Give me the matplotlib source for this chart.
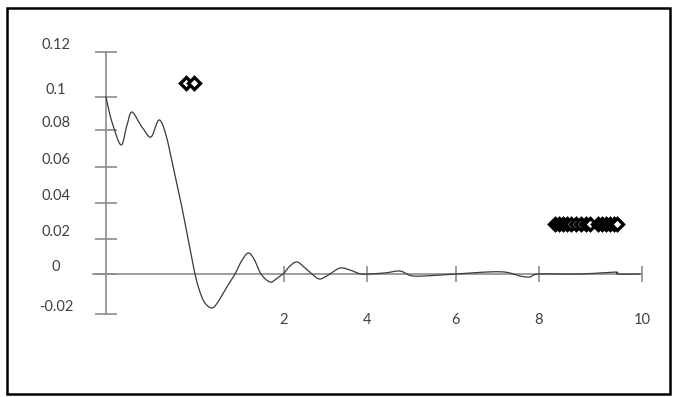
import numpy as np
import matplotlib
matplotlib.use("Agg")
import matplotlib.pyplot as plt
from matplotlib.patches import Rectangle

# curve samples
curve_x = [0.00, 0.067, 0.169, 0.236, 0.292, 0.404, 0.506, 0.596, 0.674, 0.742,
           0.798, 0.843, 0.899, 0.944, 1.000, 1.056, 1.112, 1.191, 1.258, 1.337,
           1.449, 1.517, 1.596, 1.663, 1.742, 1.843, 1.910, 1.989, 2.145, 2.313,
           2.482, 2.675, 2.843, 2.988, 3.108, 3.349, 3.590, 3.880, 4.400, 4.740,
           5.030, 5.640, 6.000, 6.700, 7.180, 7.540, 7.780, 7.980, 8.800, 9.480,
           9.530, 9.960]
curve_y = [0.100, 0.0848, 0.0719, 0.083, 0.0909, 0.0818, 0.0762, 0.0861, 0.0773, 0.0627,
           0.050, 0.040, 0.0261, 0.0149, 0.000, -0.009, -0.0145, -0.017, -0.014, -0.008,
           0.000, 0.0069, 0.012, 0.0086, 0.000, -0.004, -0.0025, 0.000, 0.0046, 0.0069,
           0.004, 0.000, -0.0025, -0.0015, 0.000, 0.0034, 0.0023, 0.000, 0.0006, 0.0017,
           -0.001, -0.0005, 0.000, 0.0011, 0.0011, -0.001, -0.0015, 0.000, 0.000, 0.0011,
           0.000, 0.000]

# scattered diamond markers
pts_x = [0.90, 0.99,
         8.31, 8.39, 8.47, 8.54, 8.62, 8.72, 8.82, 8.91, 8.99,
         9.15, 9.22, 9.30, 9.38, 9.46, 9.51]
pts_y = [0.1062, 0.1062] + [0.0283] * 15

x_ticks = [2, 4, 6, 8, 10]
y_ticks = [-0.02, 0, 0.02, 0.04, 0.06, 0.08, 0.1, 0.12]
y_labels = ["-0.02", "0", "0.02", "0.04", "0.06", "0.08", "0.1", "0.12"]

# the original axes are unevenly spaced: piecewise-linear scales
xk = np.array([-1, 0, 2, 4, 6, 8, 10, 11])
xpx = np.array([17, 106, 284, 367, 456, 539, 642, 693], dtype=float)
yk = np.array([-0.04, -0.02, 0, 0.02, 0.04, 0.06, 0.08, 0.1, 0.12, 0.14])
ypx = -np.array([354, 314, 274, 239, 203, 167, 130, 97, 52, 7], dtype=float)

def fx(v):
    return np.interp(v, xk, xpx)

def ifx(t):
    return np.interp(t, xpx, xk)

def fy(v):
    return np.interp(v, yk, ypx)

def ify(t):
    return np.interp(t, ypx, yk)

def smooth(x, y, n=16):
    # Catmull-Rom through the points, like a "smoothed line" chart
    p = np.column_stack([x, y])
    p = np.vstack([p[0], p, p[-1]])
    out = []
    t = np.linspace(0, 1, n, endpoint=False)[:, None]
    for i in range(1, len(p) - 2):
        p0, p1, p2, p3 = p[i - 1], p[i], p[i + 1], p[i + 2]
        m1, m2 = (p2 - p0) / 2, (p3 - p1) / 2
        h00 = 2 * t**3 - 3 * t**2 + 1
        h10 = t**3 - 2 * t**2 + t
        h01 = -2 * t**3 + 3 * t**2
        h11 = t**3 - t**2
        out.append(h00 * p1 + h10 * m1 + h01 * p2 + h11 * m2)
    out.append(p[-2][None, :])
    out = np.vstack(out)
    return out[:, 0], out[:, 1]

W, H = 674, 397
fig = plt.figure(figsize=(6.74, 3.97), dpi=100)
ax = fig.add_axes([93 / W, 1 - 314 / H, (642 - 93) / W, (314 - 52) / H])
ax.set_xscale('function', functions=(fx, ifx))
ax.set_yscale('function', functions=(fy, ify))
ax.set_xlim(-0.146, 10)
ax.set_ylim(-0.02, 0.12)

sx, sy = smooth(curve_x, curve_y)
ax.plot(sx, sy, color='#3a3a3a', lw=0.9, zorder=3)
ax.plot(pts_x, pts_y, ls='none', marker='D', ms=6.5, mfc='white', mec='black',
        mew=2.4, zorder=4)

axis_col = '#8c8c8c'
for s in ('top', 'right'):
    ax.spines[s].set_visible(False)
ax.spines['left'].set_position(('data', 0))
ax.spines['bottom'].set_position(('data', 0))
ax.spines['left'].set_color(axis_col)
ax.spines['bottom'].set_color(axis_col)
ax.spines['left'].set_linewidth(1.2)
ax.spines['bottom'].set_linewidth(1.2)

ax.set_xticks(x_ticks)
ax.set_xticklabels([str(t) for t in x_ticks])
ax.set_yticks(y_ticks)
ax.set_yticklabels(y_labels)
ax.minorticks_off()
ax.tick_params(axis='y', direction='inout', length=16, width=1.2, color=axis_col,
               pad=28, labelsize=10.5, labelcolor='#404040')
ax.tick_params(axis='x', direction='inout', length=11.5, width=1.2, color=axis_col,
               pad=22, labelsize=10.5, labelcolor='#404040')
for lab in ax.get_yticklabels():
    lab.set_horizontalalignment('center')
    lab.set_verticalalignment('bottom')
    lab.set_family('Lato')
for lab in ax.get_xticklabels():
    lab.set_family('Lato')

# outer frame
fig.patches.append(Rectangle((7 / W, 1 - 394 / H), 663 / W, 386 / H,
                             transform=fig.transFigure, fill=False,
                             edgecolor='black', lw=1.8))

fig.savefig('out.png', dpi=100)
